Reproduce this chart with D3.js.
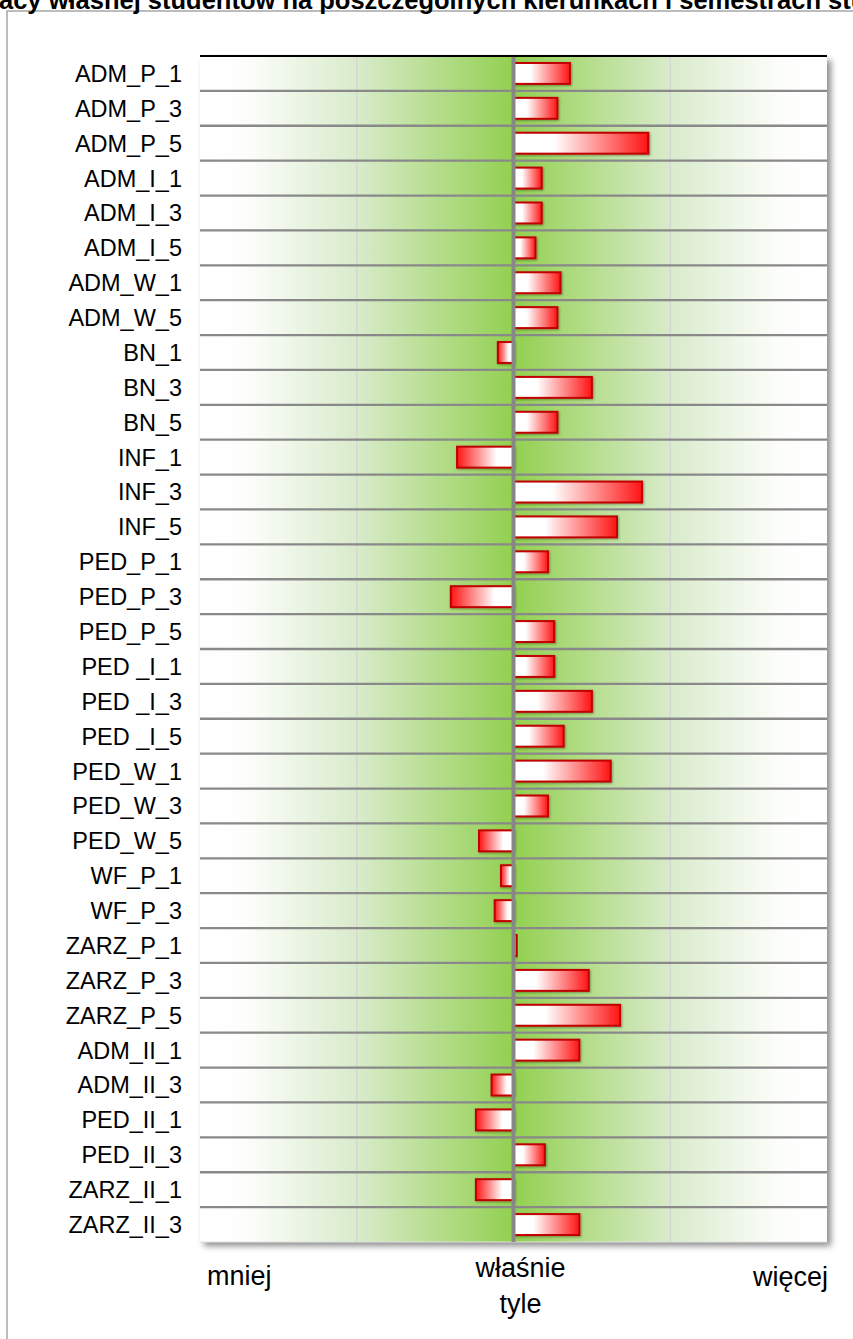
<!DOCTYPE html>
<html>
<head>
<meta charset="utf-8">
<script src="https://cdn.jsdelivr.net/npm/d3@7"></script>
<style>
  body { margin: 0; background: #fff; }
  svg { display: block; }
</style>
</head>
<body>
<div></div>
<script>
var categories = ["ADM_P_1", "ADM_P_3", "ADM_P_5", "ADM_I_1", "ADM_I_3", "ADM_I_5", "ADM_W_1", "ADM_W_5",
    "BN_1", "BN_3", "BN_5", "INF_1", "INF_3", "INF_5", "PED_P_1", "PED_P_3", "PED_P_5",
    "PED _I_1", "PED _I_3", "PED _I_5", "PED_W_1", "PED_W_3", "PED_W_5", "WF_P_1", "WF_P_3",
    "ZARZ_P_1", "ZARZ_P_3", "ZARZ_P_5", "ADM_II_1", "ADM_II_3", "PED_II_1", "PED_II_3",
    "ZARZ_II_1", "ZARZ_II_3"];

// srednia ocena (1 = mniej, 3 = właśnie tyle, 5 = więcej)
var values = [3.36, 3.28, 3.86, 3.18, 3.18, 3.14, 3.30, 3.28,
    2.90, 3.50, 3.28, 2.64, 3.82, 3.66, 3.22, 2.60, 3.26,
    3.26, 3.50, 3.32, 3.62, 3.22, 2.78, 2.92, 2.88,
    3.02, 3.48, 3.68, 3.42, 2.86, 2.76, 3.20,
    2.76, 3.42];

var tickValues = [1, 3, 5];
var tickLabels = [["mniej"], ["właśnie", "tyle"], ["więcej"]];
var gridValues = [2, 4];

var title = "pracy własnej studentów na poszczególnych kierunkach i semestrach studiów";

var width = 853;
var height = 1339;
var plotLeft = 200, plotRight = 827, plotTop = 56, plotBottom = 1242;

var svg = d3.select('div')
    .append('svg')
    .attr('width', width)
    .attr('height', height);

var defs = svg.append("defs");

// gradient tla
var bg = defs.append("linearGradient").attr("id", "bg")
    .attr("x1", 0).attr("x2", 1).attr("y1", 0).attr("y2", 0);
[[0, "#ffffff"], [0.07, "#fdfefc"], [0.25, "#d9ebcb"], [0.5, "#92d050"],
 [0.75, "#d9ebcb"], [0.93, "#fdfefc"], [1, "#ffffff"]].forEach(function (s) {
    bg.append("stop").attr("offset", s[0]).attr("stop-color", s[1]);
});

// gradient slupkow
function barGrad(id, reverse) {
    var g = defs.append("linearGradient").attr("id", id)
        .attr("x1", reverse ? 1 : 0).attr("x2", reverse ? 0 : 1)
        .attr("y1", 0).attr("y2", 0);
    g.append("stop").attr("offset", 0).attr("stop-color", "#ffffff");
    g.append("stop").attr("offset", 0.3).attr("stop-color", "#ffffff");
    g.append("stop").attr("offset", 1).attr("stop-color", "#ff1414");
}
barGrad("barPos", false);
barGrad("barNeg", true);

var shadow = defs.append("filter").attr("id", "shadow")
    .attr("x", "-5%").attr("y", "-5%").attr("width", "115%").attr("height", "115%");
shadow.append("feDropShadow").attr("dx", 4).attr("dy", 4)
    .attr("stdDeviation", 3).attr("flood-color", "#000").attr("flood-opacity", 0.45);

var barShadow = defs.append("filter").attr("id", "barShadow")
    .attr("x", "-20%").attr("y", "-30%").attr("width", "140%").attr("height", "160%");
barShadow.append("feDropShadow").attr("dx", 1).attr("dy", 1)
    .attr("stdDeviation", 0.8).attr("flood-color", "#000").attr("flood-opacity", 0.35);

// ramka wykresu
svg.append("rect")
    .attr("x", 7).attr("y", 11)
    .attr("width", 900).attr("height", 1400)
    .attr("fill", "#fff")
    .attr("stroke", "#a6a6a6")
    .attr("stroke-width", 1.5);

// tytul (uciety u gory)
var titleText = svg.append("text")
    .attr("y", 9)
    .style("font-family", "Liberation Sans, Arial, sans-serif")
    .style("font-weight", "bold")
    .style("font-size", "25.5px")
    .attr("fill", "#000")
    .text(title);
var cut = titleText.node().getSubStringLength(0, 2);
titleText.attr("x", -cut - 1);

//Creacion de escalas
var xscale = d3.scaleLinear()
    .domain([1, 5])
    .range([plotLeft, plotRight]);

var yscale = d3.scaleBand()
    .domain(categories)
    .range([plotTop, plotBottom])
    .paddingInner(0.4)
    .paddingOuter(0.2);

var gap = (yscale.step() - yscale.bandwidth()) / 2;

// obszar wykresu
svg.append("rect")
    .attr("x", plotLeft).attr("y", plotTop)
    .attr("width", plotRight - plotLeft).attr("height", plotBottom - plotTop)
    .attr("fill", "url(#bg)")
    .attr("filter", "url(#shadow)");

svg.append("line")
    .attr("x1", plotLeft).attr("x2", plotRight)
    .attr("y1", plotBottom).attr("y2", plotBottom)
    .attr("stroke", "#e4e4e4").attr("stroke-width", 1);

// linie siatki
svg.selectAll(".grid")
    .data(gridValues)
    .enter()
    .append("line")
    .attr("class", "grid")
    .attr("x1", d => xscale(d)).attr("x2", d => xscale(d))
    .attr("y1", plotTop).attr("y2", plotBottom)
    .attr("stroke", "#d6d6d6")
    .attr("stroke-width", 1.5);

// separatory wierszy
svg.selectAll(".sep")
    .data(categories.slice(1))
    .enter()
    .append("line")
    .attr("class", "sep")
    .attr("x1", plotLeft).attr("x2", plotRight)
    .attr("y1", d => yscale(d) - gap)
    .attr("y2", d => yscale(d) - gap)
    .attr("stroke", "#898989")
    .attr("stroke-width", 2.3);

//Cada barra
svg.selectAll(".bar")
    .data(values)
    .enter()
    .append("rect")
    .attr("class", "bar")
    .attr("x", d => Math.min(xscale(d), xscale(3)))
    .attr("y", (d, i) => yscale(categories[i]))
    .attr("width", d => Math.max(1, Math.abs(xscale(d) - xscale(3))))
    .attr("height", yscale.bandwidth())
    .attr("fill", d => d >= 3 ? "url(#barPos)" : "url(#barNeg)")
    .attr("stroke", "#c00000")
    .attr("stroke-width", 2)
    .attr("filter", "url(#barShadow)");

// linia srodkowa
svg.append("line")
    .attr("x1", xscale(3)).attr("x2", xscale(3))
    .attr("y1", plotTop).attr("y2", plotBottom)
    .attr("stroke", "#878787")
    .attr("stroke-width", 4);

// gorna os
svg.append("line")
    .attr("x1", plotLeft).attr("x2", plotRight)
    .attr("y1", plotTop).attr("y2", plotTop)
    .attr("stroke", "#000")
    .attr("stroke-width", 2);

// etykiety kategorii
svg.selectAll(".cat")
    .data(categories)
    .enter()
    .append("text")
    .attr("class", "cat")
    .attr("x", 182)
    .attr("y", d => yscale(d) + yscale.bandwidth() / 2)
    .attr("dy", "0.36em")
    .style("text-anchor", "end")
    .style("font-family", "Liberation Sans, Arial, sans-serif")
    .style("font-size", "23.5px")
    .attr("fill", "#000")
    .text(d => d);

// etykiety osi x
var anchors = ["start", "middle", "end"];
var offsets = [7, 7, 1];
var baselines = [1285, 1277, 1286];
tickValues.forEach(function (v, i) {
    var t = svg.append("text")
        .attr("x", xscale(v) + offsets[i])
        .attr("y", baselines[i])
        .style("text-anchor", anchors[i])
        .style("font-family", "Liberation Sans, Arial, sans-serif")
        .style("font-size", "27px")
        .attr("fill", "#000");
    tickLabels[i].forEach(function (line, j) {
        t.append("tspan")
            .attr("x", xscale(v) + offsets[i])
            .attr("dy", j === 0 ? 0 : 36)
            .text(line);
    });
});
</script>
</body>
</html>
